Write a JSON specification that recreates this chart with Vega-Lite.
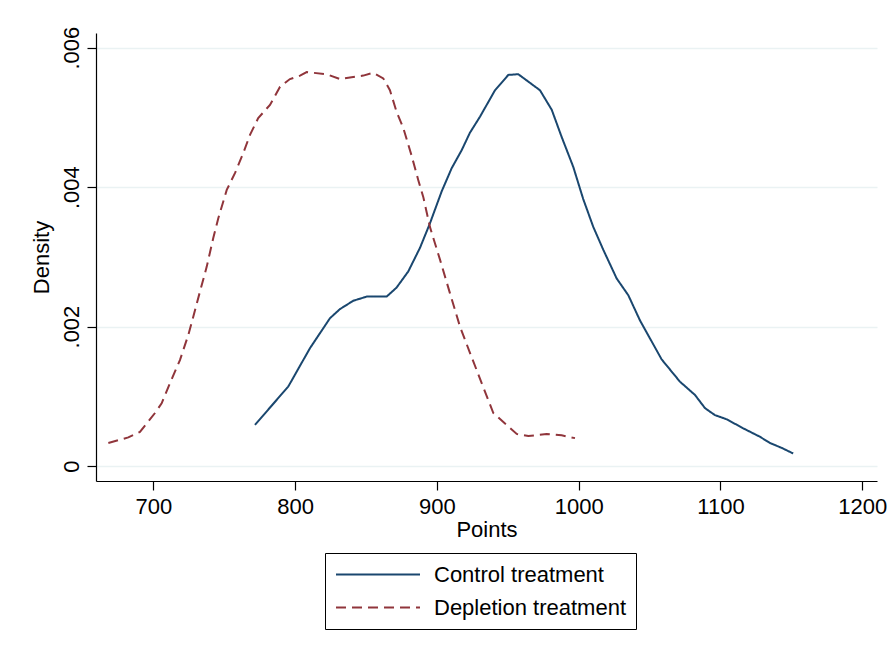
{
  "$schema": "https://vega.github.io/schema/vega-lite/v6.json",
  "width": 781,
  "height": 448,
  "autosize": {"type": "none"},
  "padding": {"left": 96, "top": 33, "right": 15, "bottom": 171},
  "background": "white",
  "config": {
    "font": "Liberation Sans",
    "view": {"stroke": null},
    "axis": {
      "domainColor": "#000000",
      "domainWidth": 1.2,
      "tickColor": "#000000",
      "tickWidth": 1.2,
      "tickSize": 9,
      "labelFont": "Liberation Sans",
      "labelFontSize": 22,
      "labelColor": "#000000",
      "titleFont": "Liberation Sans",
      "titleFontSize": 22,
      "titleFontWeight": "normal",
      "titleColor": "#000000"
    },
    "legend": {
      "orient": "none",
      "legendX": 229,
      "legendY": 520,
      "strokeColor": "#000000",
      "padding": 10,
      "labelFont": "Liberation Sans",
      "labelFontSize": 22,
      "labelColor": "#000000",
      "labelLimit": 400,
      "symbolType": "M-1,0L7,0",
      "symbolSize": 441,
      "symbolStrokeWidth": 2,
      "labelOffset": 76,
      "rowPadding": 10
    }
  },
  "data": {
    "values": [
      {"treatment": "Control treatment", "points": 771.7, "density": 0.00059},
      {"treatment": "Control treatment", "points": 795.2, "density": 0.00114},
      {"treatment": "Control treatment", "points": 810.5, "density": 0.00169},
      {"treatment": "Control treatment", "points": 824.6, "density": 0.00212},
      {"treatment": "Control treatment", "points": 831.6, "density": 0.00225},
      {"treatment": "Control treatment", "points": 841.0, "density": 0.00237},
      {"treatment": "Control treatment", "points": 850.5, "density": 0.00243},
      {"treatment": "Control treatment", "points": 864.6, "density": 0.00243},
      {"treatment": "Control treatment", "points": 871.6, "density": 0.00256},
      {"treatment": "Control treatment", "points": 879.8, "density": 0.00279},
      {"treatment": "Control treatment", "points": 888.1, "density": 0.00313},
      {"treatment": "Control treatment", "points": 895.1, "density": 0.00348},
      {"treatment": "Control treatment", "points": 903.4, "density": 0.00394},
      {"treatment": "Control treatment", "points": 910.4, "density": 0.00427},
      {"treatment": "Control treatment", "points": 917.5, "density": 0.00453},
      {"treatment": "Control treatment", "points": 923.3, "density": 0.00478},
      {"treatment": "Control treatment", "points": 930.4, "density": 0.00501},
      {"treatment": "Control treatment", "points": 941.0, "density": 0.00539},
      {"treatment": "Control treatment", "points": 950.4, "density": 0.00561},
      {"treatment": "Control treatment", "points": 957.4, "density": 0.00562},
      {"treatment": "Control treatment", "points": 972.7, "density": 0.00539},
      {"treatment": "Control treatment", "points": 981.0, "density": 0.00511},
      {"treatment": "Control treatment", "points": 988.0, "density": 0.00472},
      {"treatment": "Control treatment", "points": 996.2, "density": 0.00429},
      {"treatment": "Control treatment", "points": 1003.2, "density": 0.00383},
      {"treatment": "Control treatment", "points": 1010.3, "density": 0.00343},
      {"treatment": "Control treatment", "points": 1017.4, "density": 0.00310},
      {"treatment": "Control treatment", "points": 1026.8, "density": 0.00269},
      {"treatment": "Control treatment", "points": 1035.0, "density": 0.00245},
      {"treatment": "Control treatment", "points": 1043.2, "density": 0.00209},
      {"treatment": "Control treatment", "points": 1050.3, "density": 0.00183},
      {"treatment": "Control treatment", "points": 1058.5, "density": 0.00153},
      {"treatment": "Control treatment", "points": 1071.4, "density": 0.00121},
      {"treatment": "Control treatment", "points": 1082.0, "density": 0.00102},
      {"treatment": "Control treatment", "points": 1089.1, "density": 0.00083},
      {"treatment": "Control treatment", "points": 1096.1, "density": 0.00073},
      {"treatment": "Control treatment", "points": 1104.4, "density": 0.00067},
      {"treatment": "Control treatment", "points": 1116.1, "density": 0.00054},
      {"treatment": "Control treatment", "points": 1127.8, "density": 0.00042},
      {"treatment": "Control treatment", "points": 1134.9, "density": 0.00033},
      {"treatment": "Control treatment", "points": 1143.2, "density": 0.00026},
      {"treatment": "Control treatment", "points": 1151.3, "density": 0.00018},
      {"treatment": "Depletion treatment", "points": 668.3, "density": 0.00033},
      {"treatment": "Depletion treatment", "points": 682.4, "density": 0.00041},
      {"treatment": "Depletion treatment", "points": 690.6, "density": 0.00049},
      {"treatment": "Depletion treatment", "points": 701.2, "density": 0.00076},
      {"treatment": "Depletion treatment", "points": 705.9, "density": 0.00090},
      {"treatment": "Depletion treatment", "points": 711.8, "density": 0.00119},
      {"treatment": "Depletion treatment", "points": 718.8, "density": 0.00152},
      {"treatment": "Depletion treatment", "points": 724.7, "density": 0.00188},
      {"treatment": "Depletion treatment", "points": 728.2, "density": 0.00214},
      {"treatment": "Depletion treatment", "points": 732.9, "density": 0.00250},
      {"treatment": "Depletion treatment", "points": 737.7, "density": 0.00286},
      {"treatment": "Depletion treatment", "points": 742.3, "density": 0.00327},
      {"treatment": "Depletion treatment", "points": 745.8, "density": 0.00355},
      {"treatment": "Depletion treatment", "points": 751.8, "density": 0.00396},
      {"treatment": "Depletion treatment", "points": 757.6, "density": 0.00420},
      {"treatment": "Depletion treatment", "points": 763.5, "density": 0.00449},
      {"treatment": "Depletion treatment", "points": 768.2, "density": 0.00475},
      {"treatment": "Depletion treatment", "points": 774.0, "density": 0.00499},
      {"treatment": "Depletion treatment", "points": 782.3, "density": 0.00518},
      {"treatment": "Depletion treatment", "points": 789.4, "density": 0.00544},
      {"treatment": "Depletion treatment", "points": 796.4, "density": 0.00555},
      {"treatment": "Depletion treatment", "points": 803.5, "density": 0.00560},
      {"treatment": "Depletion treatment", "points": 808.2, "density": 0.00565},
      {"treatment": "Depletion treatment", "points": 822.3, "density": 0.00562},
      {"treatment": "Depletion treatment", "points": 831.7, "density": 0.00555},
      {"treatment": "Depletion treatment", "points": 841.0, "density": 0.00558},
      {"treatment": "Depletion treatment", "points": 848.1, "density": 0.00560},
      {"treatment": "Depletion treatment", "points": 855.1, "density": 0.00564},
      {"treatment": "Depletion treatment", "points": 862.2, "density": 0.00556},
      {"treatment": "Depletion treatment", "points": 866.9, "density": 0.00539},
      {"treatment": "Depletion treatment", "points": 871.6, "density": 0.00508},
      {"treatment": "Depletion treatment", "points": 876.3, "density": 0.00485},
      {"treatment": "Depletion treatment", "points": 882.2, "density": 0.00445},
      {"treatment": "Depletion treatment", "points": 886.9, "density": 0.00410},
      {"treatment": "Depletion treatment", "points": 890.4, "density": 0.00386},
      {"treatment": "Depletion treatment", "points": 895.1, "density": 0.00343},
      {"treatment": "Depletion treatment", "points": 902.2, "density": 0.00296},
      {"treatment": "Depletion treatment", "points": 909.2, "density": 0.00248},
      {"treatment": "Depletion treatment", "points": 916.3, "density": 0.00200},
      {"treatment": "Depletion treatment", "points": 923.4, "density": 0.00162},
      {"treatment": "Depletion treatment", "points": 931.6, "density": 0.00119},
      {"treatment": "Depletion treatment", "points": 939.8, "density": 0.00076},
      {"treatment": "Depletion treatment", "points": 949.2, "density": 0.00059},
      {"treatment": "Depletion treatment", "points": 956.3, "density": 0.00046},
      {"treatment": "Depletion treatment", "points": 964.5, "density": 0.00043},
      {"treatment": "Depletion treatment", "points": 977.4, "density": 0.00046},
      {"treatment": "Depletion treatment", "points": 988.0, "density": 0.00044},
      {"treatment": "Depletion treatment", "points": 997.4, "density": 0.00040}
    ]
  },
  "mark": {"type": "line", "strokeWidth": 2},
  "encoding": {
    "x": {
      "field": "points",
      "type": "quantitative",
      "scale": {"domain": [659.6, 1210.4], "nice": false, "zero": false},
      "axis": {
        "values": [700, 800, 900, 1000, 1100, 1200],
        "format": "d",
        "title": "Points",
        "grid": false,
        "labelPadding": 6,
        "titlePadding": 2
      }
    },
    "y": {
      "field": "density",
      "type": "quantitative",
      "scale": {"domain": [-0.000215, 0.006211], "nice": false, "zero": false},
      "axis": {
        "values": [0, 0.002, 0.004, 0.006],
        "labelExpr": "datum.value == 0 ? '0' : replace(format(datum.value, '.3f'), '0.', '.')",
        "labelAngle": -90,
        "labelAlign": "center",
        "labelBaseline": "bottom",
        "labelPadding": 4,
        "title": "Density",
        "titlePadding": 7,
        "grid": true,
        "gridColor": "#eaf2f3",
        "gridWidth": 1.5
      }
    },
    "color": {
      "field": "treatment",
      "type": "nominal",
      "scale": {"domain": ["Control treatment", "Depletion treatment"], "range": ["#1a476f", "#90353b"]},
      "legend": {"title": null}
    },
    "strokeDash": {
      "field": "treatment",
      "type": "nominal",
      "scale": {"domain": ["Control treatment", "Depletion treatment"], "range": [[1, 0], [10, 6]]},
      "legend": {"title": null}
    }
  }
}
